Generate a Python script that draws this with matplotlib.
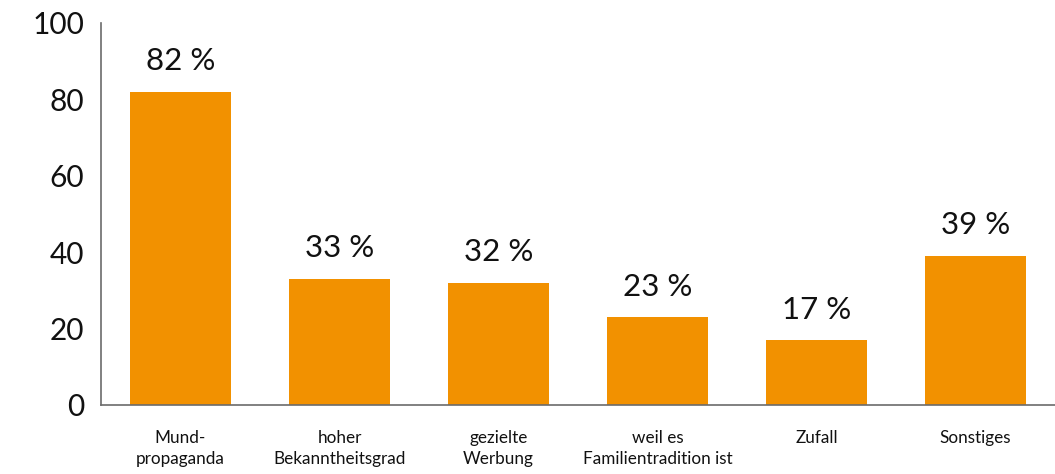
import matplotlib
matplotlib.use("Agg")
import matplotlib.pyplot as plt

categories = [
    "Mund-\npropaganda",
    "hoher\nBekanntheitsgrad",
    "gezielte\nWerbung",
    "weil es\nFamilientradition ist",
    "Zufall",
    "Sonstiges",
]
values = [82, 33, 32, 23, 17, 39]
y_ticks = [0, 20, 40, 60, 80, 100]

BAR_COLOR = "#F29100"
plt.rcParams["font.family"] = ["Lato", "DejaVu Sans"]

fig = plt.figure(figsize=(10.55, 4.74), dpi=100)
ax = fig.add_axes([101 / 1055, 1 - 405 / 474, 1 - 101 / 1055, 382 / 474])

x = list(range(len(categories)))
bars = ax.bar(x, values, width=0.63, color=BAR_COLOR, zorder=2)

for rect, v in zip(bars, values):
    ax.annotate(f"{v} %", (rect.get_x() + rect.get_width() / 2, rect.get_height()),
                xytext=(0, 22), textcoords="offset points",
                ha="center", va="center", fontsize=22.5, color="#111111")

ax.set_xlim(-0.5, 5.5)
ax.set_ylim(0, 100)
ax.set_yticks(y_ticks)
ax.set_yticklabels([str(t) for t in y_ticks], fontsize=21.5, color="#111111")
ax.set_xticks(x)
ax.set_xticklabels(categories, fontsize=12.3, color="#111111", linespacing=1.35, va="top")
ax.tick_params(axis="y", length=0, pad=12)
ax.tick_params(axis="x", length=0, pad=18)

for side in ("top", "right"):
    ax.spines[side].set_visible(False)
for side in ("left", "bottom"):
    ax.spines[side].set_color("#6b6b6b")
    ax.spines[side].set_linewidth(1.2)

fig.savefig("out.png", dpi=100)
